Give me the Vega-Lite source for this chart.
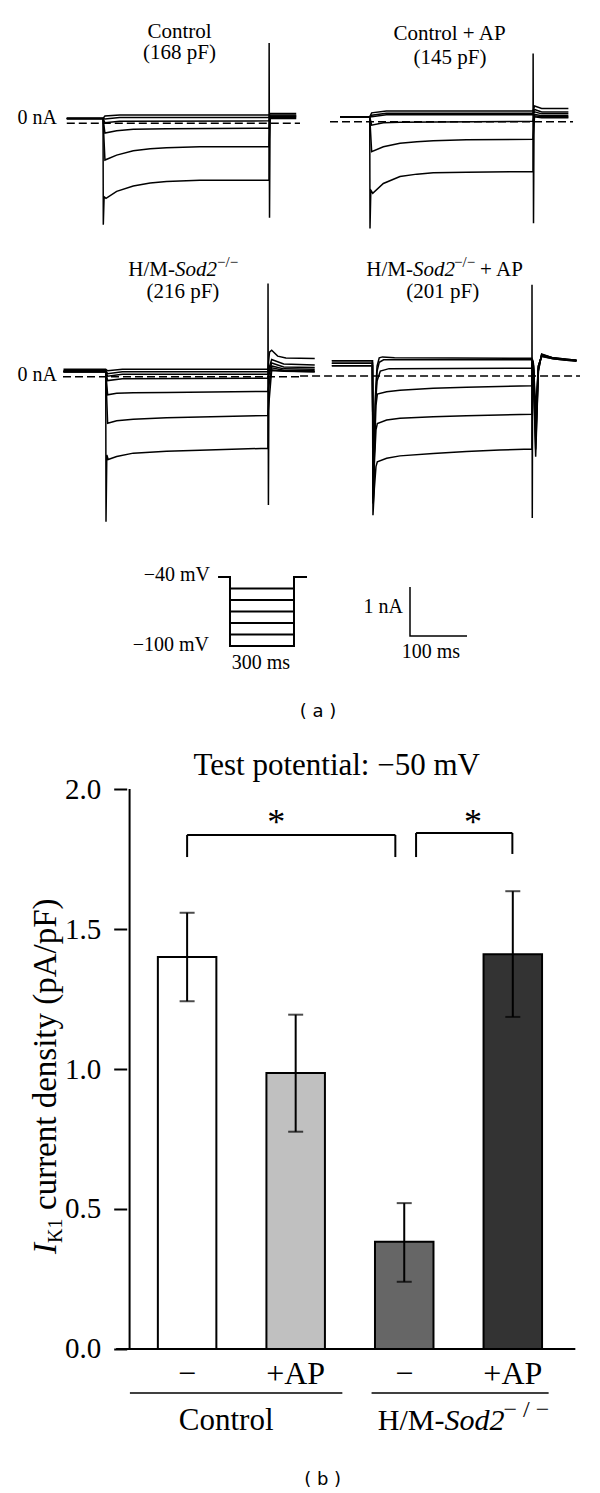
{
"$schema":"https://vega.github.io/schema/vega-lite/v6.json",
"width":600,
"height":1493,
"autosize":{"type":"none"},
"padding":0,
"background":"white",
"config":{"view":{"stroke":null},"font":"Liberation Serif","text":{"color":"black","font":"Liberation Serif"},"axis":{"labelFont":"Liberation Serif","labelColor":"black"}},
"datasets":{
"p1":[
{"trace":1,"t":-67,"i":0.10},{"trace":1,"t":-0.5,"i":0.10},{"trace":1,"t":3,"i":0.15},{"trace":1,"t":30,"i":0.17},{"trace":1,"t":304,"i":0.17},{"trace":1,"t":306,"i":0.20},{"trace":1,"t":354,"i":0.20},
{"trace":2,"t":-67,"i":0.10},{"trace":2,"t":-0.5,"i":0.10},{"trace":2,"t":3,"i":0.09},{"trace":2,"t":30,"i":0.12},{"trace":2,"t":304,"i":0.12},{"trace":2,"t":306,"i":0.17},{"trace":2,"t":354,"i":0.17},
{"trace":3,"t":-67,"i":0.10},{"trace":3,"t":-0.5,"i":0.10},{"trace":3,"t":3,"i":0.01},{"trace":3,"t":30,"i":0.04},{"trace":3,"t":304,"i":0.05},{"trace":3,"t":306,"i":0.15},{"trace":3,"t":354,"i":0.15},
{"trace":4,"t":-67,"i":0.10},{"trace":4,"t":-0.5,"i":0.10},{"trace":4,"t":3,"i":-0.20},{"trace":4,"t":24.5,"i":-0.15},{"trace":4,"t":55,"i":-0.12},{"trace":4,"t":116,"i":-0.11},{"trace":4,"t":304,"i":-0.10},{"trace":4,"t":306,"i":0.14},{"trace":4,"t":354,"i":0.14},
{"trace":5,"t":-67,"i":0.10},{"trace":5,"t":-0.5,"i":0.10},{"trace":5,"t":3,"i":-0.75},{"trace":5,"t":24.5,"i":-0.65},{"trace":5,"t":55,"i":-0.56},{"trace":5,"t":86,"i":-0.52},{"trace":5,"t":116,"i":-0.50},{"trace":5,"t":177,"i":-0.48},{"trace":5,"t":304,"i":-0.48},{"trace":5,"t":306,"i":0.12},{"trace":5,"t":354,"i":0.12},
{"trace":6,"t":-67,"i":0.10},{"trace":6,"t":-0.5,"i":0.10},{"trace":6,"t":0,"i":-2.07},{"trace":6,"t":1.5,"i":-1.50},{"trace":6,"t":5,"i":-1.53},{"trace":6,"t":24.5,"i":-1.39},{"trace":6,"t":55,"i":-1.28},{"trace":6,"t":86,"i":-1.22},{"trace":6,"t":116,"i":-1.19},{"trace":6,"t":177,"i":-1.16},{"trace":6,"t":304,"i":-1.16},{"trace":6,"t":304.3,"i":1.64},{"trace":6,"t":305,"i":-1.93},{"trace":6,"t":306,"i":0.10},{"trace":6,"t":354,"i":0.10}
],
"p2":[
{"trace":1,"t":-55,"i":0.10},{"trace":1,"t":-0.5,"i":0.10},{"trace":1,"t":3,"i":0.18},{"trace":1,"t":30,"i":0.22},{"trace":1,"t":299,"i":0.22},{"trace":1,"t":302,"i":0.32},{"trace":1,"t":315,"i":0.27},{"trace":1,"t":364,"i":0.27},
{"trace":2,"t":-55,"i":0.10},{"trace":2,"t":-0.5,"i":0.10},{"trace":2,"t":3,"i":0.13},{"trace":2,"t":30,"i":0.17},{"trace":2,"t":299,"i":0.17},{"trace":2,"t":302,"i":0.25},{"trace":2,"t":315,"i":0.20},{"trace":2,"t":364,"i":0.20},
{"trace":3,"t":-55,"i":0.10},{"trace":3,"t":-0.5,"i":0.10},{"trace":3,"t":3,"i":0.10},{"trace":3,"t":30,"i":0.14},{"trace":3,"t":299,"i":0.14},{"trace":3,"t":302,"i":0.20},{"trace":3,"t":315,"i":0.16},{"trace":3,"t":364,"i":0.16},
{"trace":4,"t":-55,"i":0.10},{"trace":4,"t":-0.5,"i":0.10},{"trace":4,"t":3,"i":-0.07},{"trace":4,"t":24.5,"i":-0.02},{"trace":4,"t":55,"i":-0.01},{"trace":4,"t":299,"i":0.01},{"trace":4,"t":302,"i":0.15},{"trace":4,"t":315,"i":0.12},{"trace":4,"t":364,"i":0.12},
{"trace":5,"t":-55,"i":0.10},{"trace":5,"t":-0.5,"i":0.10},{"trace":5,"t":3,"i":-0.61},{"trace":5,"t":24.5,"i":-0.51},{"trace":5,"t":55,"i":-0.44},{"trace":5,"t":86,"i":-0.41},{"trace":5,"t":116,"i":-0.39},{"trace":5,"t":177,"i":-0.37},{"trace":5,"t":299,"i":-0.36},{"trace":5,"t":302,"i":0.12},{"trace":5,"t":315,"i":0.10},{"trace":5,"t":364,"i":0.10},
{"trace":6,"t":-55,"i":0.10},{"trace":6,"t":-0.5,"i":0.10},{"trace":6,"t":0,"i":-2.18},{"trace":6,"t":1.5,"i":-1.40},{"trace":6,"t":5,"i":-1.46},{"trace":6,"t":24.5,"i":-1.26},{"trace":6,"t":55,"i":-1.12},{"trace":6,"t":86,"i":-1.07},{"trace":6,"t":116,"i":-1.04},{"trace":6,"t":177,"i":-1.03},{"trace":6,"t":299,"i":-1.02},{"trace":6,"t":299.3,"i":1.39},{"trace":6,"t":300,"i":-2.07},{"trace":6,"t":301,"i":0.10},{"trace":6,"t":315,"i":0.08},{"trace":6,"t":364,"i":0.08}
],
"p3":[
{"trace":1,"t":-78,"i":0.15},{"trace":1,"t":-0.5,"i":0.15},{"trace":1,"t":3,"i":0.12},{"trace":1,"t":30,"i":0.15},{"trace":1,"t":297,"i":0.15},{"trace":1,"t":300,"i":0.50},{"trace":1,"t":304,"i":0.54},{"trace":1,"t":315,"i":0.42},{"trace":1,"t":330,"i":0.38},{"trace":1,"t":383,"i":0.37},
{"trace":2,"t":-78,"i":0.12},{"trace":2,"t":-0.5,"i":0.12},{"trace":2,"t":3,"i":0.06},{"trace":2,"t":30,"i":0.10},{"trace":2,"t":297,"i":0.10},{"trace":2,"t":304,"i":0.35},{"trace":2,"t":326,"i":0.26},{"trace":2,"t":383,"i":0.24},
{"trace":3,"t":-78,"i":0.10},{"trace":3,"t":-0.5,"i":0.10},{"trace":3,"t":3,"i":0.01},{"trace":3,"t":30,"i":0.05},{"trace":3,"t":297,"i":0.05},{"trace":3,"t":304,"i":0.28},{"trace":3,"t":326,"i":0.20},{"trace":3,"t":383,"i":0.19},
{"trace":4,"t":-78,"i":0.10},{"trace":4,"t":-0.5,"i":0.10},{"trace":4,"t":3,"i":-0.08},{"trace":4,"t":30,"i":-0.04},{"trace":4,"t":297,"i":-0.03},{"trace":4,"t":304,"i":0.22},{"trace":4,"t":326,"i":0.16},{"trace":4,"t":383,"i":0.15},
{"trace":5,"t":-78,"i":0.10},{"trace":5,"t":-0.5,"i":0.10},{"trace":5,"t":3,"i":-0.37},{"trace":5,"t":19.6,"i":-0.34},{"trace":5,"t":50,"i":-0.33},{"trace":5,"t":111,"i":-0.32},{"trace":5,"t":297,"i":-0.30},{"trace":5,"t":304,"i":0.18},{"trace":5,"t":326,"i":0.13},{"trace":5,"t":383,"i":0.12},
{"trace":6,"t":-78,"i":0.10},{"trace":6,"t":-0.5,"i":0.10},{"trace":6,"t":3,"i":-0.95},{"trace":6,"t":19.6,"i":-0.90},{"trace":6,"t":50,"i":-0.87},{"trace":6,"t":111,"i":-0.84},{"trace":6,"t":172,"i":-0.82},{"trace":6,"t":297,"i":-0.79},{"trace":6,"t":304,"i":0.14},{"trace":6,"t":326,"i":0.11},{"trace":6,"t":383,"i":0.10},
{"trace":7,"t":-78,"i":0.12},{"trace":7,"t":-0.5,"i":0.12},{"trace":7,"t":0,"i":-2.96},{"trace":7,"t":1.5,"i":-1.60},{"trace":7,"t":4,"i":-1.69},{"trace":7,"t":19.6,"i":-1.63},{"trace":7,"t":50,"i":-1.56},{"trace":7,"t":111,"i":-1.52},{"trace":7,"t":172,"i":-1.50},{"trace":7,"t":297,"i":-1.46},{"trace":7,"t":297.3,"i":1.90},{"trace":7,"t":298,"i":-2.62},{"trace":7,"t":299,"i":0.12},{"trace":7,"t":307,"i":0.12},{"trace":7,"t":383,"i":0.10}
],
"p4":[
{"trace":1,"t":-75,"i":0.31},{"trace":1,"t":-0.5,"i":0.31},{"trace":1,"t":1,"i":-2.6},{"trace":1,"t":3,"i":-1.5},{"trace":1,"t":5,"i":-0.4},{"trace":1,"t":8,"i":0.2},{"trace":1,"t":12,"i":0.37},{"trace":1,"t":18,"i":0.39},{"trace":1,"t":40,"i":0.37},{"trace":1,"t":292,"i":0.36},{"trace":1,"t":293,"i":0.33},{"trace":1,"t":295,"i":0.25},{"trace":1,"t":299,"i":-0.70},{"trace":1,"t":304,"i":0.2},{"trace":1,"t":310,"i":0.40},{"trace":1,"t":331,"i":0.35},{"trace":1,"t":356,"i":0.32},{"trace":1,"t":374,"i":0.30},
{"trace":2,"t":-75,"i":0.26},{"trace":2,"t":-0.5,"i":0.26},{"trace":2,"t":1,"i":-2.5},{"trace":2,"t":3,"i":-1.5},{"trace":2,"t":5,"i":-0.5},{"trace":2,"t":8,"i":0.1},{"trace":2,"t":12,"i":0.28},{"trace":2,"t":20,"i":0.33},{"trace":2,"t":292,"i":0.33},{"trace":2,"t":293,"i":0.33},{"trace":2,"t":295,"i":0.2},{"trace":2,"t":299,"i":-0.90},{"trace":2,"t":304,"i":0.2},{"trace":2,"t":310,"i":0.42},{"trace":2,"t":331,"i":0.36},{"trace":2,"t":356,"i":0.33},{"trace":2,"t":374,"i":0.31},
{"trace":3,"t":-75,"i":0.26},{"trace":3,"t":-0.5,"i":0.26},{"trace":3,"t":1,"i":-2.4},{"trace":3,"t":3,"i":-1.5},{"trace":3,"t":5,"i":-0.6},{"trace":3,"t":8,"i":-0.1},{"trace":3,"t":14,"i":0.10},{"trace":3,"t":30,"i":0.15},{"trace":3,"t":292,"i":0.16},{"trace":3,"t":293,"i":0.32},{"trace":3,"t":295,"i":0.2},{"trace":3,"t":299,"i":-1.10},{"trace":3,"t":304,"i":0.2},{"trace":3,"t":310,"i":0.41},{"trace":3,"t":331,"i":0.35},{"trace":3,"t":356,"i":0.32},{"trace":3,"t":374,"i":0.31},
{"trace":4,"t":-75,"i":0.21},{"trace":4,"t":-0.5,"i":0.21},{"trace":4,"t":1,"i":-2.5},{"trace":4,"t":3,"i":-1.6},{"trace":4,"t":6,"i":-0.6},{"trace":4,"t":8.5,"i":-0.37},{"trace":4,"t":25.6,"i":-0.32},{"trace":4,"t":50,"i":-0.29},{"trace":4,"t":111,"i":-0.25},{"trace":4,"t":172,"i":-0.23},{"trace":4,"t":292,"i":-0.20},{"trace":4,"t":293,"i":0.32},{"trace":4,"t":295,"i":0.15},{"trace":4,"t":299,"i":-1.30},{"trace":4,"t":304,"i":0.15},{"trace":4,"t":310,"i":0.43},{"trace":4,"t":331,"i":0.37},{"trace":4,"t":356,"i":0.33},{"trace":4,"t":374,"i":0.32},
{"trace":5,"t":-75,"i":0.21},{"trace":5,"t":-0.5,"i":0.21},{"trace":5,"t":1,"i":-2.6},{"trace":5,"t":3,"i":-1.8},{"trace":5,"t":6,"i":-1.1},{"trace":5,"t":8.5,"i":-0.97},{"trace":5,"t":25.6,"i":-0.90},{"trace":5,"t":50,"i":-0.86},{"trace":5,"t":111,"i":-0.83},{"trace":5,"t":172,"i":-0.81},{"trace":5,"t":292,"i":-0.78},{"trace":5,"t":293,"i":0.30},{"trace":5,"t":295,"i":0.1},{"trace":5,"t":299,"i":-1.50},{"trace":5,"t":304,"i":0.1},{"trace":5,"t":310,"i":0.44},{"trace":5,"t":331,"i":0.37},{"trace":5,"t":356,"i":0.34},{"trace":5,"t":374,"i":0.32},
{"trace":6,"t":-75,"i":0.31},{"trace":6,"t":-0.5,"i":0.31},{"trace":6,"t":0.5,"i":-2.84},{"trace":6,"t":3,"i":-2.3},{"trace":6,"t":6,"i":-1.85},{"trace":6,"t":8.5,"i":-1.75},{"trace":6,"t":25.6,"i":-1.68},{"trace":6,"t":50,"i":-1.63},{"trace":6,"t":111,"i":-1.58},{"trace":6,"t":172,"i":-1.54},{"trace":6,"t":233,"i":-1.51},{"trace":6,"t":292,"i":-1.49},{"trace":6,"t":292.3,"i":1.86},{"trace":6,"t":292.8,"i":-2.90},{"trace":6,"t":293.5,"i":0.30},{"trace":6,"t":295,"i":0.1},{"trace":6,"t":299,"i":-1.65},{"trace":6,"t":304,"i":0.1},{"trace":6,"t":310,"i":0.45},{"trace":6,"t":331,"i":0.37},{"trace":6,"t":356,"i":0.34},{"trace":6,"t":374,"i":0.32}
],
"proto_env":[{"t":-56,"mv":-40,"o":0},{"t":0,"mv":-40,"o":1},{"t":0,"mv":-100,"o":2},{"t":300,"mv":-100,"o":3},{"t":300,"mv":-40,"o":4},{"t":361,"mv":-40,"o":5}],
"levels":[{"mv":-50},{"mv":-60},{"mv":-70},{"mv":-80},{"mv":-90}],
"sbar":[{"ms":0,"nA":1,"o":0},{"ms":0,"nA":0,"o":1},{"ms":100,"nA":0,"o":2}],
"bars":[
{"bar":"Control −","group":"Control","treatment":"−","idx":0,"mean":1.40,"lo":1.242,"hi":1.558},
{"bar":"Control +AP","group":"Control","treatment":"+AP","idx":1,"mean":0.986,"lo":0.776,"hi":1.194},
{"bar":"Sod2 −","group":"H/M-Sod2−/−","treatment":"−","idx":2,"mean":0.383,"lo":0.240,"hi":0.521},
{"bar":"Sod2 +AP","group":"H/M-Sod2−/−","treatment":"+AP","idx":3,"mean":1.41,"lo":1.186,"hi":1.635}
],
"brackets":[{"x1":0,"x2":1.918,"yt":1.836,"yl":1.757,"yr":1.757,"xs":0.822},{"x1":2.109,"x2":2.996,"yt":1.843,"yl":1.757,"yr":1.768,"xs":2.634}],
"groups":[{"group":"Control","g1":-0.527,"g2":1.430},{"group":"H/M-Sod2−/−","g1":1.699,"g2":3.330}]
},
"resolve":{"scale":{"x":"independent","y":"independent"},"axis":{"x":"independent","y":"independent"}},
"layer":[
{"layer":[
  {"data":{"name":"p1"},"mark":{"type":"line","color":"black","strokeWidth":1.5},
   "encoding":{"x":{"field":"t","type":"quantitative","scale":{"domain":[-189.54,911.38],"nice":false,"zero":false},"axis":null},
   "y":{"field":"i","type":"quantitative","scale":{"domain":[-27.953,2.5163],"nice":false,"zero":false},"axis":null},
   "detail":{"field":"trace"}}},
  {"data":{"values":[{}]},"mark":{"type":"rule","color":"black","strokeWidth":1.4,"strokeDash":[8,4]},"encoding":{"x":{"datum":-67},"x2":{"datum":360.9},"y":{"datum":0}}},
  {"data":{"values":[{}]},"mark":{"type":"text","text":"Control","fontSize":21,"align":"center","baseline":"middle"},"encoding":{"x":{"datum":139.8},"y":{"datum":1.87}}},
  {"data":{"values":[{}]},"mark":{"type":"text","text":"(168 pF)","fontSize":21,"align":"center","baseline":"middle"},"encoding":{"x":{"datum":139.8},"y":{"datum":1.43}}},
  {"data":{"values":[{}]},"mark":{"type":"text","text":"0 nA","fontSize":20,"align":"right","baseline":"middle"},"encoding":{"x":{"datum":-85},"y":{"datum":0.108}}}
]},
{"layer":[
  {"data":{"name":"p2"},"mark":{"type":"line","color":"black","strokeWidth":1.5},
   "encoding":{"x":{"field":"t","type":"quantitative","scale":{"domain":[-678.9,422.0],"nice":false,"zero":false},"axis":null},
   "y":{"field":"i","type":"quantitative","scale":{"domain":[-27.986,2.4837],"nice":false,"zero":false},"axis":null},
   "detail":{"field":"trace"}}},
  {"data":{"values":[{}]},"mark":{"type":"rule","color":"black","strokeWidth":1.4,"strokeDash":[8,4]},"encoding":{"x":{"datum":-73.4},"x2":{"datum":372.5},"y":{"datum":0}}},
  {"data":{"values":[{}]},"mark":{"type":"text","text":"Control + AP","fontSize":21,"align":"center","baseline":"middle"},"encoding":{"x":{"datum":145.9},"y":{"datum":1.80}}},
  {"data":{"values":[{}]},"mark":{"type":"text","text":"(145 pF)","fontSize":21,"align":"center","baseline":"middle"},"encoding":{"x":{"datum":146.8},"y":{"datum":1.29}}}
]},
{"layer":[
  {"data":{"name":"p3"},"mark":{"type":"line","color":"black","strokeWidth":1.5},
   "encoding":{"x":{"field":"t","type":"quantitative","scale":{"domain":[-194.5,906.42],"nice":false,"zero":false},"axis":null},
   "y":{"field":"i","type":"quantitative","scale":{"domain":[-22.782,7.6878],"nice":false,"zero":false},"axis":null},
   "detail":{"field":"trace"}}},
  {"data":{"values":[{}]},"mark":{"type":"rule","color":"black","strokeWidth":1.4,"strokeDash":[8,4]},"encoding":{"x":{"datum":-78.9},"x2":{"datum":356},"y":{"datum":0}}},
  {"data":{"values":[{}]},"mark":{"type":"text","text":"H/M-","fontSize":21,"align":"right","baseline":"middle"},"encoding":{"x":{"datum":126.6},"y":{"datum":2.18}}},
  {"data":{"values":[{}]},"mark":{"type":"text","text":"Sod2","fontSize":21,"fontStyle":"italic","align":"left","baseline":"middle"},"encoding":{"x":{"datum":126.6},"y":{"datum":2.18}}},
  {"data":{"values":[{}]},"mark":{"type":"text","text":"−/−","fontSize":15,"align":"left","baseline":"middle","dx":42,"dy":-8},"encoding":{"x":{"datum":126.6},"y":{"datum":2.18}}},
  {"data":{"values":[{}]},"mark":{"type":"text","text":"(216 pF)","fontSize":21,"align":"center","baseline":"middle"},"encoding":{"x":{"datum":141},"y":{"datum":1.73}}},
  {"data":{"values":[{}]},"mark":{"type":"text","text":"0 nA","fontSize":20,"align":"right","baseline":"middle"},"encoding":{"x":{"datum":-89.9},"y":{"datum":0.035}}}
]},
{"layer":[
  {"data":{"name":"p4"},"mark":{"type":"line","color":"black","strokeWidth":1.5},
   "encoding":{"x":{"field":"t","type":"quantitative","scale":{"domain":[-683.85,417.06],"nice":false,"zero":false},"axis":null},
   "y":{"field":"i","type":"quantitative","scale":{"domain":[-22.796,7.6735],"nice":false,"zero":false},"axis":null},
   "detail":{"field":"trace"}}},
  {"data":{"values":[{}]},"mark":{"type":"rule","color":"black","strokeWidth":1.4,"strokeDash":[8,4]},"encoding":{"x":{"datum":-133.3},"x2":{"datum":380.4},"y":{"datum":0}}},
  {"data":{"values":[{}]},"mark":{"type":"text","text":"H/M-","fontSize":21,"align":"right","baseline":"middle"},"encoding":{"x":{"datum":74},"y":{"datum":2.16}}},
  {"data":{"values":[{}]},"mark":{"type":"text","text":"Sod2","fontSize":21,"fontStyle":"italic","align":"left","baseline":"middle"},"encoding":{"x":{"datum":74},"y":{"datum":2.16}}},
  {"data":{"values":[{}]},"mark":{"type":"text","text":"−/−","fontSize":15,"align":"left","baseline":"middle","dx":41,"dy":-8},"encoding":{"x":{"datum":74},"y":{"datum":2.16}}},
  {"data":{"values":[{}]},"mark":{"type":"text","text":"+ AP","fontSize":21,"align":"left","baseline":"middle","dx":67},"encoding":{"x":{"datum":74},"y":{"datum":2.16}}},
  {"data":{"values":[{}]},"mark":{"type":"text","text":"(201 pF)","fontSize":21,"align":"center","baseline":"middle"},"encoding":{"x":{"datum":128.6},"y":{"datum":1.71}}}
]},
{"layer":[
  {"data":{"name":"proto_env"},"mark":{"type":"line","color":"black","strokeWidth":2},
   "encoding":{"x":{"field":"t","type":"quantitative","scale":{"domain":[-1078.1,1734.4],"nice":false,"zero":false},"axis":null},
   "y":{"field":"mv","type":"quantitative","scale":{"domain":[-836.52,461.74],"nice":false,"zero":false},"axis":null},
   "order":{"field":"o","type":"quantitative"}}},
  {"data":{"name":"levels"},"mark":{"type":"rule","color":"black","strokeWidth":2},"encoding":{"x":{"datum":0},"x2":{"datum":300},"y":{"field":"mv","type":"quantitative"}}},
  {"data":{"values":[{}]},"mark":{"type":"text","text":"−40 mV","fontSize":20,"align":"right","baseline":"middle"},"encoding":{"x":{"datum":-93.8},"y":{"datum":-38.3}}},
  {"data":{"values":[{}]},"mark":{"type":"text","text":"−100 mV","fontSize":20,"align":"right","baseline":"middle"},"encoding":{"x":{"datum":-98.4},"y":{"datum":-99.1}}},
  {"data":{"values":[{}]},"mark":{"type":"text","text":"300 ms","fontSize":20,"align":"center","baseline":"middle"},"encoding":{"x":{"datum":145},"y":{"datum":-114.8}}},
  {"data":{"values":[{}]},"mark":{"type":"text","text":"( a )","font":"DejaVu Sans","fontSize":18,"align":"center","baseline":"middle"},"encoding":{"x":{"datum":412.5},"y":{"datum":-157.4}}}
]},
{"layer":[
  {"data":{"name":"sbar"},"mark":{"type":"line","color":"black","strokeWidth":1.5},
   "encoding":{"x":{"field":"ms","type":"quantitative","scale":{"domain":[-719.3,333.33],"nice":false,"zero":false},"axis":null},
   "y":{"field":"nA","type":"quantitative","scale":{"domain":[-17.49,12.98],"nice":false,"zero":false},"axis":null},
   "order":{"field":"o","type":"quantitative"}}},
  {"data":{"values":[{}]},"mark":{"type":"text","text":"1 nA","fontSize":20,"align":"right","baseline":"middle"},"encoding":{"x":{"datum":-12.3},"y":{"datum":0.598}}},
  {"data":{"values":[{}]},"mark":{"type":"text","text":"100 ms","fontSize":20,"align":"center","baseline":"middle"},"encoding":{"x":{"datum":36.8},"y":{"datum":-0.32}}}
]},
{"data":{"name":"bars"},"layer":[
  {"mark":{"type":"bar","width":58.5,"stroke":"black","strokeWidth":2,"orient":"vertical"},
   "encoding":{"x":{"field":"idx","type":"quantitative","scale":{"domain":[-1.6775,3.7572],"nice":false,"zero":false},"axis":null},
   "y":{"field":"mean","type":"quantitative","scale":{"domain":[-0.5143,4.8179],"nice":false,"zero":false},
     "axis":{"orient":"left","values":[0,0.5,1,1.5,2],"format":".1f","offset":-126.7,"domain":false,"tickSize":13,"tickWidth":2,"tickColor":"black","labelFontSize":29,"labelPadding":13,"labelFlush":false,"grid":false,"title":null,"labelColor":"black"}},
   "y2":{"datum":0},
   "color":{"field":"bar","type":"nominal","scale":{"domain":["Control −","Control +AP","Sod2 −","Sod2 +AP"],"range":["#ffffff","#c0c0c0","#666666","#333333"]},"legend":null}}},
  {"data":{"values":[{}]},"mark":{"type":"rule","color":"black","strokeWidth":2},"encoding":{"x":{"datum":-0.5299},"y":{"datum":0},"y2":{"datum":2}}},
  {"mark":{"type":"rule","color":"black","strokeWidth":2},"encoding":{"x":{"field":"idx","type":"quantitative","title":null},"y":{"field":"lo","type":"quantitative","title":null},"y2":{"field":"hi"}}},
  {"mark":{"type":"tick","color":"black","orient":"horizontal","size":15,"thickness":2},"encoding":{"x":{"field":"idx","type":"quantitative","title":null},"y":{"field":"lo","type":"quantitative","title":null}}},
  {"mark":{"type":"tick","color":"black","orient":"horizontal","size":15,"thickness":2},"encoding":{"x":{"field":"idx","type":"quantitative","title":null},"y":{"field":"hi","type":"quantitative","title":null}}},
  {"data":{"values":[{}]},"mark":{"type":"rule","color":"black","strokeWidth":2},"encoding":{"x":{"datum":-0.654},"x2":{"datum":3.576},"y":{"datum":0}}},
  {"mark":{"type":"text","fontSize":32,"align":"center","baseline":"alphabetic"},"encoding":{"x":{"field":"idx","type":"quantitative","title":null},"y":{"datum":-0.125},"text":{"field":"treatment"}}},
  {"data":{"name":"brackets"},"mark":{"type":"rule","color":"black","strokeWidth":2},"encoding":{"x":{"field":"x1","type":"quantitative","title":null},"x2":{"field":"x2"},"y":{"field":"yt","type":"quantitative","title":null}}},
  {"data":{"name":"brackets"},"mark":{"type":"rule","color":"black","strokeWidth":2},"encoding":{"x":{"field":"x1","type":"quantitative","title":null},"y":{"field":"yt","type":"quantitative","title":null},"y2":{"field":"yl"}}},
  {"data":{"name":"brackets"},"mark":{"type":"rule","color":"black","strokeWidth":2},"encoding":{"x":{"field":"x2","type":"quantitative","title":null},"y":{"field":"yt","type":"quantitative","title":null},"y2":{"field":"yr"}}},
  {"data":{"name":"brackets"},"mark":{"type":"text","text":"*","fontSize":36,"align":"center","baseline":"alphabetic"},"encoding":{"x":{"field":"xs","type":"quantitative","title":null},"y":{"datum":1.838}}},
  {"data":{"values":[{}]},"mark":{"type":"text","text":"Test potential: −50 mV","fontSize":31,"align":"center","baseline":"alphabetic"},"encoding":{"x":{"datum":1.378},"y":{"datum":2.05}}},
  {"data":{"values":[{}]},"mark":{"type":"text","text":"I","fontSize":33,"fontStyle":"italic","angle":270,"align":"left","baseline":"alphabetic"},"encoding":{"x":{"datum":-1.2065},"y":{"datum":0.339}}},
  {"data":{"values":[{}]},"mark":{"type":"text","text":"K1","fontSize":20,"angle":270,"align":"left","baseline":"alphabetic"},"encoding":{"x":{"datum":-1.152},"y":{"datum":0.379}}},
  {"data":{"values":[{}]},"mark":{"type":"text","text":"current density (pA/pF)","fontSize":33,"angle":270,"align":"left","baseline":"alphabetic"},"encoding":{"x":{"datum":-1.2065},"y":{"datum":0.4964}}},
  {"data":{"name":"groups"},"mark":{"type":"rule","color":"black","strokeWidth":1.5},"encoding":{"x":{"field":"g1","type":"quantitative","title":null},"x2":{"field":"g2"},"y":{"datum":-0.157}}},
  {"data":{"values":[{}]},"mark":{"type":"text","text":"Control","fontSize":31,"align":"center","baseline":"alphabetic"},"encoding":{"x":{"datum":0.36},"y":{"datum":-0.289}}},
  {"data":{"values":[{}]},"mark":{"type":"text","text":"H/M-","fontSize":30,"align":"right","baseline":"alphabetic"},"encoding":{"x":{"datum":2.371},"y":{"datum":-0.289}}},
  {"data":{"values":[{}]},"mark":{"type":"text","text":"Sod2","fontSize":30,"fontStyle":"italic","align":"left","baseline":"alphabetic"},"encoding":{"x":{"datum":2.371},"y":{"datum":-0.289}}},
  {"data":{"values":[{}]},"mark":{"type":"text","text":"− / −","fontSize":24,"align":"left","baseline":"alphabetic","dx":59,"dy":-13},"encoding":{"x":{"datum":2.371},"y":{"datum":-0.289}}},
  {"data":{"values":[{}]},"mark":{"type":"text","text":"( b )","font":"DejaVu Sans","fontSize":18,"align":"center","baseline":"middle"},"encoding":{"x":{"datum":1.248},"y":{"datum":-0.468}}}
]}
]
}
